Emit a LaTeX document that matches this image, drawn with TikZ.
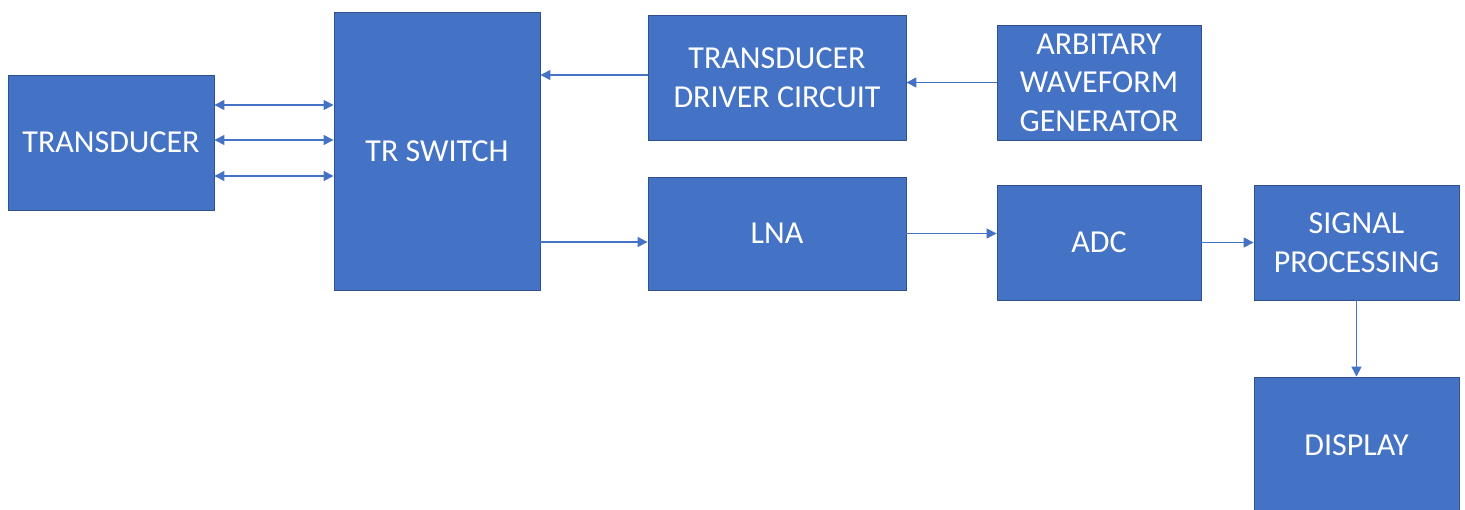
\documentclass[tikz,border=0pt]{standalone}
\usepackage{fontspec}
\setmainfont{Carlito}
\usetikzlibrary{arrows.meta}

\definecolor{blkfill}{HTML}{4472C4}
\definecolor{blkedge}{HTML}{2F528F}
\definecolor{linkc}{HTML}{4472C4}

\tikzset{
  blk/.style={draw=blkedge, fill=blkfill, line width=0.9pt, text=white,
    align=center, inner sep=0pt, font=\fontsize{32}{38.5}\selectfont},
  link/.style={draw=linkc, line width=1.5pt,
    -{Triangle[length=10pt,width=10pt]}},
  twoway/.style={link, {Triangle[length=10pt,width=10pt]}-{Triangle[length=10pt,width=10pt]}}
}

\begin{document}
\begin{tikzpicture}[x=1pt,y=-1pt]
\useasboundingbox (0,0) rectangle (1465,510);

% blocks
\node[blk, minimum width=206pt, minimum height=135pt] (trans) at (111,142.5) {TRANSDUCER};
\node[blk, minimum width=206pt, minimum height=278pt] (trsw) at (437,151) {TR SWITCH};
\node[blk, minimum width=258pt, minimum height=125pt] (drv) at (777,77.5) {TRANSDUCER\\DRIVER CIRCUIT};
\node[blk, minimum width=204pt, minimum height=115pt] (awg) at (1099,82.5) {ARBITARY\\WAVEFORM\\GENERATOR};
\node[blk, minimum width=258pt, minimum height=113pt] (lna) at (777,233.5) {LNA};
\node[blk, minimum width=204pt, minimum height=115pt] (adc) at (1099,242.5) {ADC};
\node[blk, minimum width=205pt, minimum height=115pt] (sigp) at (1356.5,242.5) {SIGNAL\\PROCESSING};
\node[blk, minimum width=205pt, minimum height=137pt] (disp) at (1356.5,445.5) {DISPLAY};

% transducer <-> switch
\foreach \yy in {105,140,176}
  \draw[twoway] (trans.east |- 0,\yy) -- (trsw.west |- 0,\yy);

% transmit path
\draw[link] (awg.west) -- (awg.west -| drv.east);
\draw[link] (drv.west |- 0,75) -- (trsw.east |- 0,75);

% receive path
\draw[link] (trsw.east |- 0,242) -- (lna.west |- 0,242);
\draw[link] (lna.east) -- (lna.east -| adc.west);
\draw[link] (adc.east) -- (sigp.west);
\draw[link] (sigp.south) -- (disp.north);
\end{tikzpicture}
\end{document}
